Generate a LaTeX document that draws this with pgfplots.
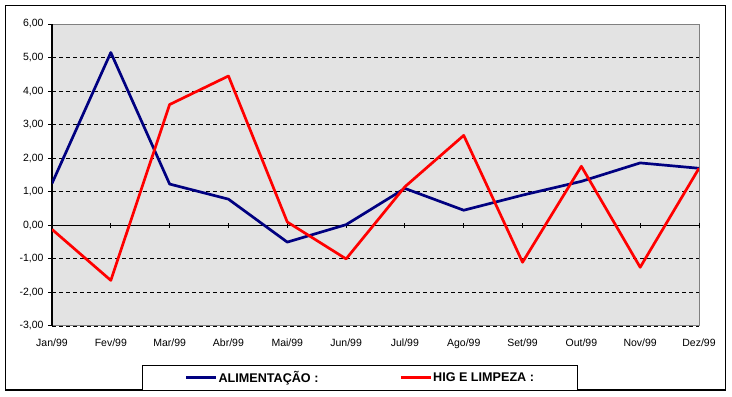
\documentclass[border=0pt]{standalone}
\usepackage{pgfplots}
\pgfplotsset{compat=1.18}
\usepackage{fontspec}
\setmainfont{Liberation Sans}
\definecolor{bgGray}{RGB}{227,227,227}
\definecolor{navy}{RGB}{0,0,128}
\definecolor{frameGray}{RGB}{128,128,128}
\pgfplotsset{common/.style={scale only axis, width=647bp, height=302bp,
  at={(52bp,71bp)}, anchor=south west, xmin=0, xmax=11, ymin=-3, ymax=6}}
\begin{document}
\begin{tikzpicture}
\useasboundingbox (0bp,0bp) rectangle (732bp,397bp);
\fill[white] (0bp,0bp) rectangle (732bp,397bp);
\draw[black, line width=1.5bp] (5.5bp,7bp) rectangle (725.5bp,391.5bp);
% layer A: background, grid, labels
\begin{axis}[common,
  axis background/.style={fill=bgGray},
  axis line style={frameGray, line width=1bp},
  xtick={0,...,11},
  xticklabels={Jan/99,Fev/99,Mar/99,Abr/99,Mai/99,Jun/99,Jul/99,Ago/99,Set/99,Out/99,Nov/99,Dez/99},
  xtick style={draw=none},
  xticklabel style={yshift=-5bp},
  ytick={-3,...,6},
  yticklabels={{-3,00},{-2,00},{-1,00},{0,00},{1,00},{2,00},{3,00},{4,00},{5,00},{6,00}},
  ytick pos=left, tick align=outside, major tick length=4bp,
  ytick style={black, line width=1bp},
  yticklabel style={xshift=-1bp},
  ymajorgrids, grid style={black, line width=0.9bp, dash pattern=on 4bp off 3bp},
  tick label style={font=\fontsize{10.5bp}{12bp}\selectfont},
]
\end{axis}
% layer B: black left axis and zero line with ticks
\begin{axis}[common,
  axis x line=middle, axis y line=left,
  axis line style={-, black, line width=1.2bp},
  xtick={0,...,11}, xticklabels={},
  ytick=\empty,
  tick align=center, major tick length=5bp,
  xtick style={black, line width=1bp},
]
\end{axis}
% layer C: data
\begin{axis}[common, hide axis,
  legend style={at={(0.476,-0.1715)}, anchor=center, draw=black, line width=0.9bp,
    fill=white, font=\bfseries\fontsize{12.6bp}{14bp}\selectfont,
    inner xsep=42bp, inner ysep=5bp,
    nodes={inner sep=1bp},
    /tikz/every even column/.append style={column sep=80bp}},
  legend columns=2,
  legend image code/.code={\draw[#1] (0bp,0bp) -- (30bp,0bp);},
]
\addplot[navy, line width=2.7bp, line join=round] coordinates {
 (0,1.25) (1,5.15) (2,1.23) (3,0.78) (4,-0.50) (5,0.02)
 (6,1.10) (7,0.45) (8,0.90) (9,1.31) (10,1.86) (11,1.70)};
\addlegendentry{ALIMENTAÇÃO :}
\addplot[red, line width=2.7bp, line join=round] coordinates {
 (0,-0.12) (1,-1.64) (2,3.60) (3,4.45) (4,0.10) (5,-1.00)
 (6,1.15) (7,2.68) (8,-1.10) (9,1.76) (10,-1.25) (11,1.70)};
\addlegendentry{HIG E LIMPEZA :}
\end{axis}
\end{tikzpicture}
\end{document}
